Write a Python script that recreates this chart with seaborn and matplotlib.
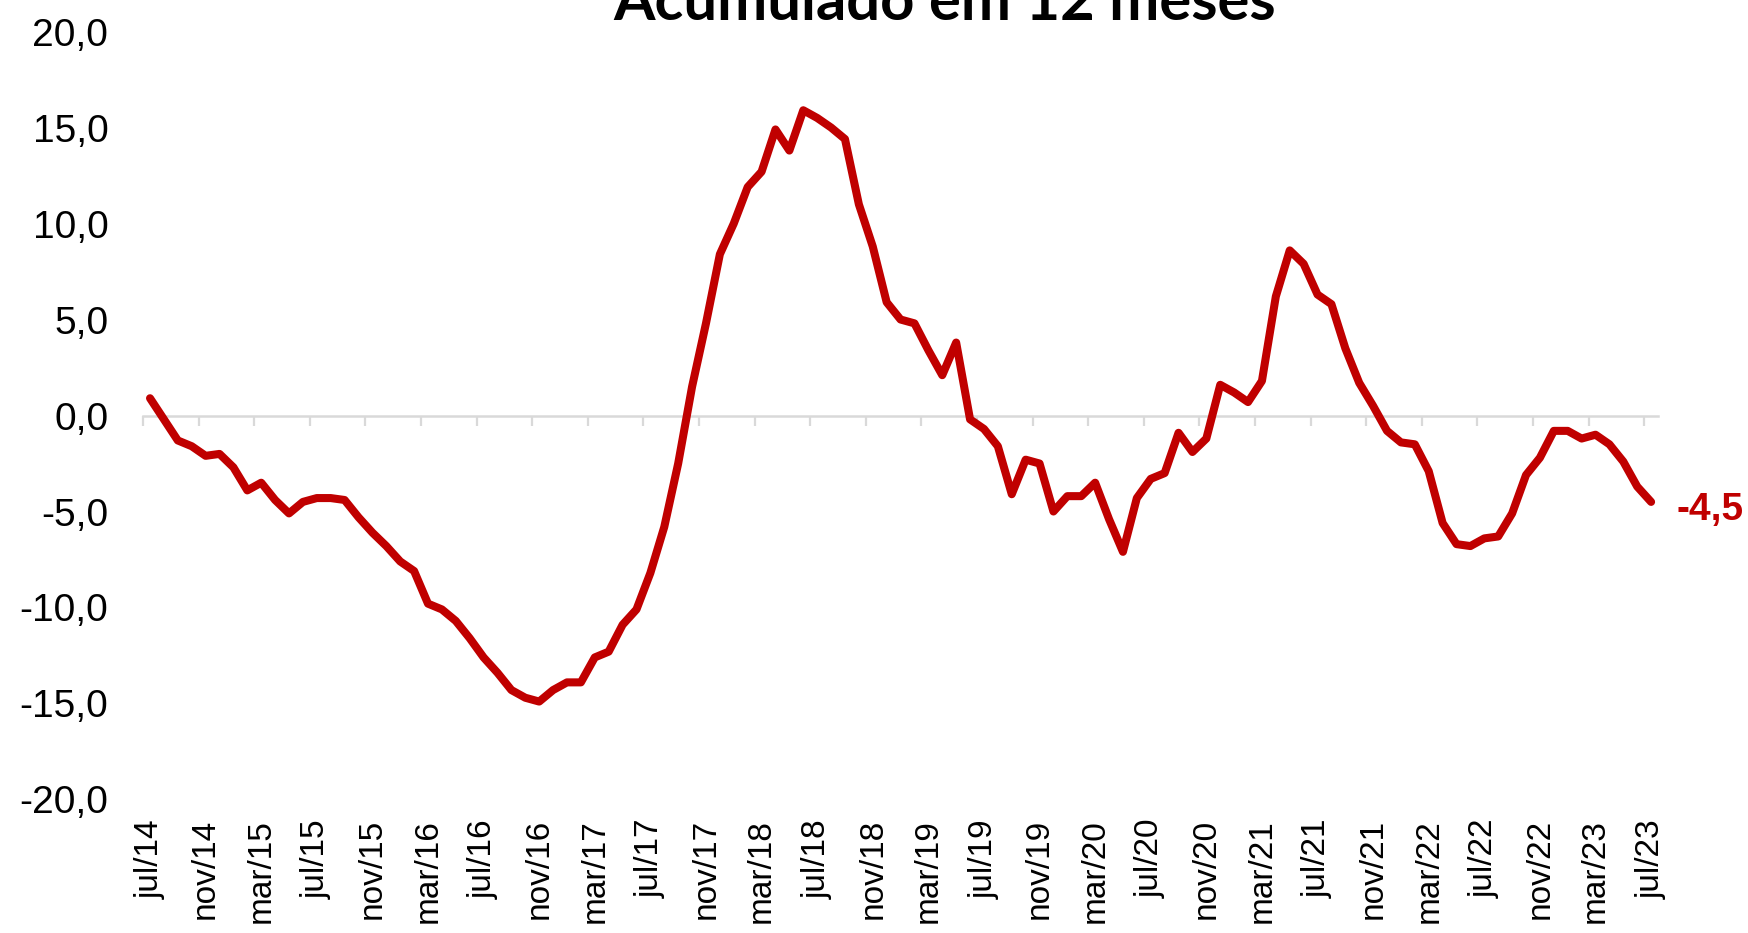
import seaborn as sns
import pandas as pd
import matplotlib
matplotlib.use('Agg')
from matplotlib import pyplot as plt
from matplotlib.ticker import FuncFormatter, FixedLocator, NullFormatter

# 12-month accumulated, monthly from jul/14 to jul/23
valores = [0.9, -0.2, -1.3, -1.6, -2.1, -2.0, -2.7, -3.9, -3.5, -4.4,
           -5.1, -4.5, -4.3, -4.3, -4.4, -5.3, -6.1, -6.8, -7.6, -8.1,
           -9.8, -10.1, -10.7, -11.6, -12.6, -13.4, -14.3, -14.7, -14.9, -14.3,
           -13.9, -13.9, -12.6, -12.3, -10.9, -10.1, -8.2, -5.8, -2.5, 1.5,
           4.8, 8.4, 10.0, 11.9, 12.7, 14.9, 13.8, 15.9, 15.5, 15.0,
           14.4, 11.0, 8.8, 5.9, 5.0, 4.8, 3.4, 2.1, 3.8, -0.2,
           -0.7, -1.6, -4.1, -2.3, -2.5, -5.0, -4.2, -4.2, -3.5, -5.4,
           -7.1, -4.3, -3.3, -3.0, -0.9, -1.9, -1.2, 1.6, 1.2, 0.7,
           1.8, 6.2, 8.6, 7.9, 6.3, 5.8, 3.5, 1.7, 0.5, -0.8,
           -1.4, -1.5, -2.9, -5.6, -6.7, -6.8, -6.4, -6.3, -5.1, -3.1,
           -2.2, -0.8, -0.8, -1.2, -1.0, -1.5, -2.4, -3.7, -4.5]

rotulos = ['jul/14', 'nov/14', 'mar/15', 'jul/15', 'nov/15', 'mar/16', 'jul/16',
           'nov/16', 'mar/17', 'jul/17', 'nov/17', 'mar/18', 'jul/18', 'nov/18',
           'mar/19', 'jul/19', 'nov/19', 'mar/20', 'jul/20', 'nov/20', 'mar/21',
           'jul/21', 'nov/21', 'mar/22', 'jul/22', 'nov/22', 'mar/23', 'jul/23']

titulo = 'Acumulado em 12 meses'
vermelho = '#C00000'
cinza = '#D9D9D9'

df = pd.DataFrame({'mes': range(len(valores)), 'valor': valores})

sns.set_style('white')
plt.rcParams['font.family'] = ['Liberation Sans', 'DejaVu Sans']

fig = plt.figure(figsize=(17.49, 9.33), dpi=100)
ax = fig.add_axes([0.0818, 0.1431, 0.948 - 0.0818, 0.9662 - 0.1431])

sns.lineplot(data=df, x='mes', y='valor', color=vermelho, linewidth=5.8, ax=ax,
             solid_joinstyle='round', solid_capstyle='round', zorder=5)

ax.set_xlim(-0.5, len(valores) - 0.5)
ax.set_ylim(-20, 20)
ax.set_yticks(range(-20, 21, 5))
ax.yaxis.set_major_formatter(FuncFormatter(lambda v, _: f'{v:.1f}'.replace('.', ',')))
ax.tick_params(axis='y', length=0, pad=25, labelsize=28, labelcolor='black')

pos = list(range(0, len(valores), 4))
ax.set_xticks(pos)
ax.set_xticklabels(rotulos, rotation=90, fontsize=24, color='black')
ax.tick_params(axis='x', length=0, pad=14)
ax.set_xlabel('')
ax.set_ylabel('')
for s in ax.spines.values():
    s.set_visible(False)

# zero line with category ticks hanging below it
eixo0 = ax.secondary_xaxis(0.5)
eixo0.xaxis.set_major_locator(FixedLocator([p - 0.5 for p in pos]))
eixo0.xaxis.set_major_formatter(NullFormatter())
eixo0.tick_params(axis='x', which='both', direction='in', length=7.5, width=1.6,
                  color=cinza, labeltop=False, labelbottom=False)
for s in eixo0.spines.values():
    s.set_color(cinza)
    s.set_linewidth(1.8)
eixo0.set_zorder(0)

ultimo = valores[-1]
ax.annotate(f'{ultimo:.1f}'.replace('.', ','), xy=(len(valores) - 1, ultimo),
            xytext=(18, -6), textcoords='offset points', va='center', ha='left',
            fontsize=28, fontweight='bold', color=vermelho, annotation_clip=False)

fig.text(0.540, 1 - 20 / 933, titulo, ha='center', va='baseline',
         fontsize=43, fontweight='bold', color='black', family=['Lato', 'DejaVu Sans'])

fig.savefig('out.png', dpi=100)
